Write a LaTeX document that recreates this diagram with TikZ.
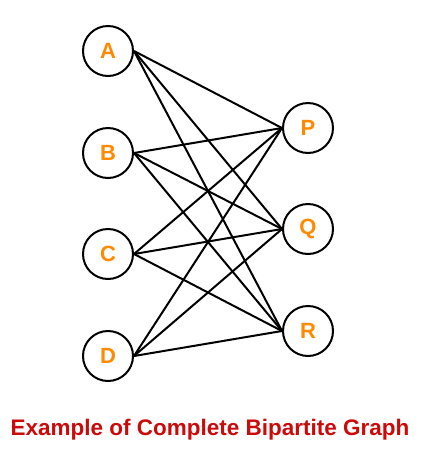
\documentclass[tikz,border=0pt]{standalone}
\usepackage{fontspec}
\setmainfont{Liberation Sans}
\usetikzlibrary{positioning}
\definecolor{vorange}{HTML}{FF8A00}
\definecolor{capred}{HTML}{CC0A0A}
\begin{document}
\begin{tikzpicture}[x=1pt, y=-1pt]
            \tikzstyle{vertex} = [circle, draw, line width=2pt, minimum size=50pt, inner sep=0pt, text=vorange, font=\fontsize{22}{22}\selectfont\bfseries]
            \tikzstyle{edge} = [line width=2pt]
            \useasboundingbox (0,0) rectangle (423,475);
            \node [vertex] (A) at (108,51) {A};
            \node [vertex, below=50pt of A] (B) {B};
            \node [vertex, below=49pt of B] (C) {C};
            \node [vertex, below=50pt of C] (D) {D};
            \node [vertex] (P) at (308,128) {P};
            \node [vertex, below=49pt of P] (Q) {Q};
            \node [vertex, below=50pt of Q] (R) {R};
            \node [text=capred, font=\fontsize{22.5}{22.5}\selectfont\bfseries] (caption) at (210,430) {Example of Complete Bipartite Graph};

            \foreach \l in {A,B,C,D}
                \foreach \r in {P,Q,R}
                    \draw[edge] (\l.east) -- (\r.west);
        \end{tikzpicture}
\end{document}
